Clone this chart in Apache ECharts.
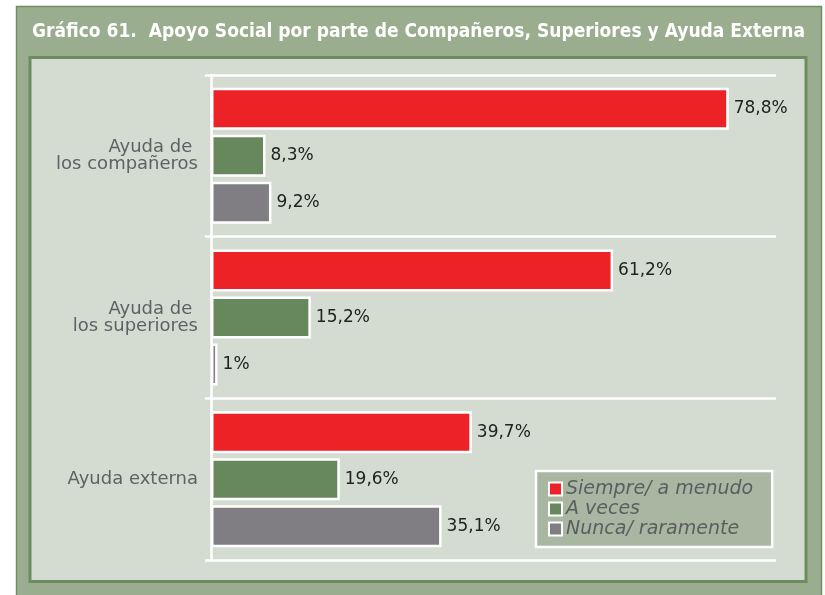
<!DOCTYPE html>
<html>
<head>
<meta charset="utf-8">
<script src="https://cdn.jsdelivr.net/npm/echarts@6/dist/echarts.min.js"></script>
<style>
  html, body { margin: 0; padding: 0; background: #ffffff; }
  #chart { width: 825px; height: 595px; }
</style>
</head>
<body>
<div id="chart"></div>
<script>
// Categories (top to bottom) and the three answer series, in percent
const categories = ['Ayuda de \nlos compañeros', 'Ayuda de \nlos superiores', 'Ayuda externa'];
const seriesNames = ['Siempre/ a menudo', 'A veces', 'Nunca/ raramente'];
const siempre = [78.8, 61.2, 39.7];
const aVeces = [8.3, 15.2, 19.6];
const nunca = [9.2, 1, 35.1];

const titleText = 'Gráfico 61.  Apoyo Social por parte de Compañeros, Superiores y Ayuda Externa';

const colors = ['#ec2227', '#66885c', '#807e82'];
const values = [siempre, aVeces, nunca];

const fmtPct = (v) => String(v).replace('.', ',') + '%';

// Condense the bold heading so it spans the header band
const titleFont = 'bold 20px "DejaVu Sans"';
const measureCtx = document.createElement('canvas').getContext('2d');
measureCtx.font = titleFont;
const titleScaleX = 773 / measureCtx.measureText(titleText).width;

const chart = echarts.init(document.getElementById('chart'));

chart.setOption({
  animation: false,
  backgroundColor: '#ffffff',
  graphic: [
    {
      type: 'rect', z: -10, silent: true,
      shape: { x: 16.5, y: 6.5, width: 805, height: 600 },
      style: { fill: '#9bad8f', stroke: '#6e8e62', lineWidth: 1.5 }
    },
    {
      type: 'rect', z: -9, silent: true,
      shape: { x: 30, y: 57.5, width: 776, height: 524 },
      style: { fill: '#d4dcd1', stroke: '#6b8b60', lineWidth: 3 }
    },
    {
      type: 'text', z: 10, silent: true,
      x: 32, y: 22,
      scaleX: titleScaleX,
      style: {
        text: titleText,
        font: titleFont,
        fill: '#ffffff',
        textAlign: 'left',
        textVerticalAlign: 'top'
      }
    }
  ],
  legend: {
    orient: 'vertical',
    left: 536,
    top: 471,
    padding: [8, 19, 8, 12],
    backgroundColor: '#a9b7a2',
    borderColor: '#ffffff',
    borderWidth: 2.5,
    icon: 'rect',
    itemWidth: 13,
    itemHeight: 13,
    itemGap: 0,
    textStyle: {
      color: '#5b5e60',
      fontStyle: 'italic',
      fontFamily: 'DejaVu Sans',
      fontSize: 19,
      lineHeight: 20,
      padding: [0, 0, 0, -1]
    },
    data: seriesNames
  },
  grid: { left: 211, right: 49, top: 75, bottom: 35, containLabel: false },
  xAxis: {
    type: 'value',
    min: 0,
    max: 86,
    show: false
  },
  yAxis: {
    type: 'category',
    inverse: true,
    data: categories,
    axisLine: { show: true, lineStyle: { color: '#ffffff', width: 2.5 } },
    axisTick: { show: true, length: 6, lineStyle: { color: '#ffffff', width: 2.5 } },
    splitLine: { show: true, lineStyle: { color: '#ffffff', width: 2.5 } },
    axisLabel: {
      color: '#5f6264',
      fontFamily: 'DejaVu Sans',
      fontSize: 18,
      lineHeight: 17,
      margin: 13,
      align: 'right'
    }
  },
  series: seriesNames.map((name, i) => ({
    name: name,
    type: 'bar',
    data: values[i],
    barWidth: 42,
    barGap: '12%',
    itemStyle: { color: colors[i], borderColor: '#ffffff', borderWidth: 2.5 },
    label: {
      show: true,
      position: 'right',
      distance: 5,
      color: '#222222',
      fontFamily: 'DejaVu Sans',
      fontSize: 17,
      formatter: (p) => fmtPct(p.value)
    }
  }))
});
</script>
</body>
</html>
